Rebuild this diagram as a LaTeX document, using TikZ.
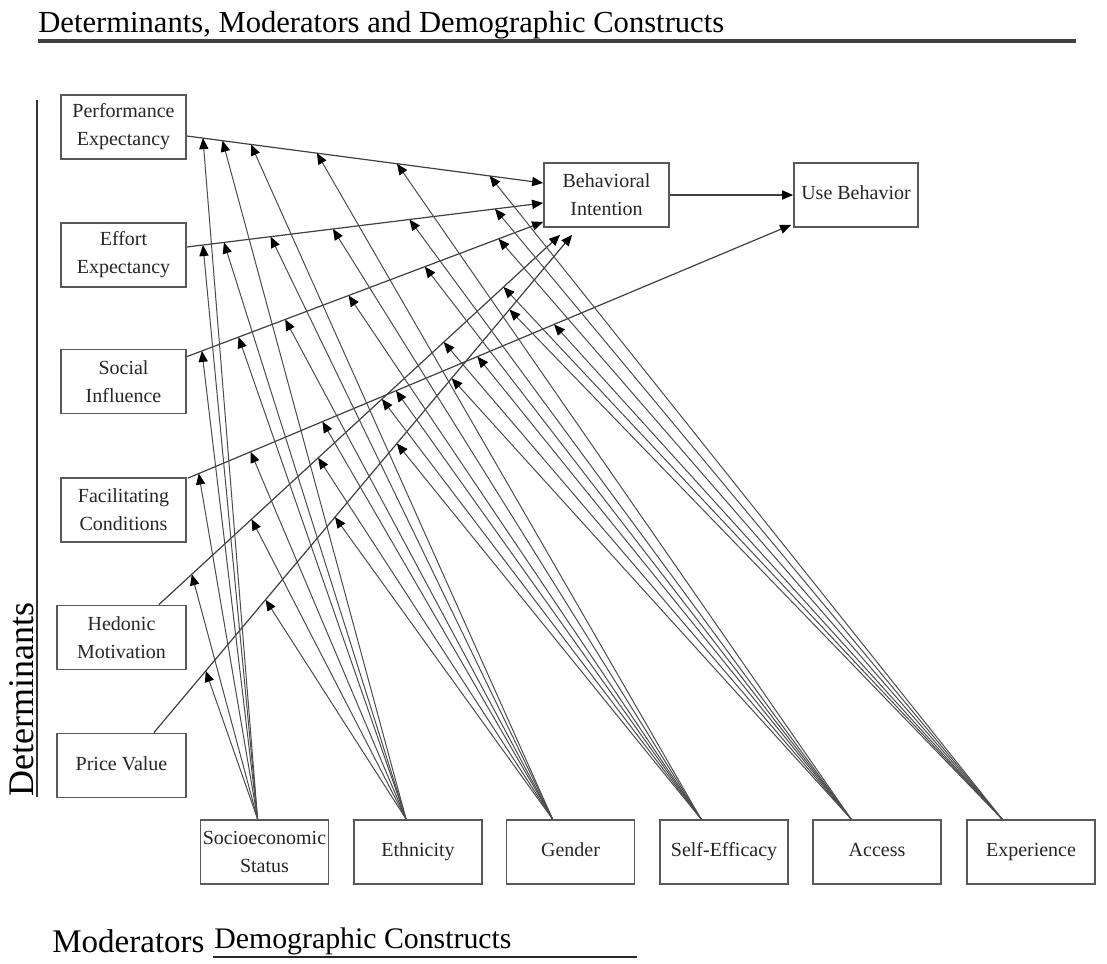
\documentclass[tikz,border=0pt]{standalone}
\usepackage{fontspec}
\setmainfont{Liberation Serif}
\usetikzlibrary{calc,arrows.meta}

\tikzset{
  box/.style={draw=black!65, line width=0.9pt, fill=white, minimum width=62.5pt,
    minimum height=32pt, inner sep=0pt, align=center, text=black!85,
    font=\fontsize{10}{14}\selectfont},
  oneline/.style={text height=7pt, text depth=2.2pt},
  link/.style={draw=black!75, line width=0.6pt, -{Triangle[length=5.5pt,width=4.6pt,black]}},
  modlink/.style={draw=black!70, line width=0.5pt, -{Triangle[length=5.5pt,width=4.6pt,black]}},
}

\begin{document}
\begin{tikzpicture}[x=0.5pt, y=-0.5pt]
\useasboundingbox (0,0) rectangle (1107,963);

% headings
\node[anchor=base west, inner sep=0pt, font=\fontsize{15.3}{18}\selectfont] (title) at (38,33)
  {Determinants, Moderators and Demographic Constructs};
\draw[line width=2pt, black!75] ($(title.base west)+(0,8)$) -- ++(1038,0);

\node[anchor=base west, inner sep=0pt, rotate=90, font=\fontsize{18}{20}\selectfont] (det) at (33,797) {Determinants};
\draw[line width=1pt, black!80] (37,100) -- (37,797);

\node[anchor=base west, inner sep=0pt, font=\fontsize{16.5}{18}\selectfont] (mod) at (52,952) {Moderators};
\node[anchor=base west, inner sep=0pt, font=\fontsize{14.9}{17}\selectfont] (demo) at (214,948) {Demographic Constructs};
\draw[line width=0.8pt, black!85] ($(demo.base west)+(-1,9)$) -- ++(424,0);

% determinants
\node[box] (PE) at (123.5,127) {Performance\\Expectancy};
\node[box] (EE) at (123.5,255) {Effort\\Expectancy};
\node[box] (SI) at (123.5,381.5) {Social\\Influence};
\node[box] (FC) at (123.5,510) {Facilitating\\Conditions};
\node[box, minimum width=64.5pt] (HM) at (121.5,637.5) {Hedonic\\Motivation};
\node[box, oneline, minimum width=64.5pt] (PV) at (121.5,765.5) {Price Value};

% outcomes
\node[box] (BI) at (606.5,195) {Behavioral\\Intention};
\node[box, oneline, minimum width=62pt] (UB) at (856,195) {Use Behavior};

% moderators
\node[box, minimum width=64pt] (SES) at (264.5,852) {Socioeconomic\\Status};
\node[box, oneline, minimum width=64pt] (ETH) at (418,852) {Ethnicity};
\node[box, oneline, minimum width=64pt] (GEN) at (570.5,852) {Gender};
\node[box, oneline, minimum width=64pt] (SEF) at (724,852) {Self-Efficacy};
\node[box, oneline, minimum width=64pt] (ACC) at (877,852) {Access};
\node[box, oneline, minimum width=64pt] (EXP) at (1031,852) {Experience};

% paths from determinants, with the points where moderators act
\draw[link] ($(PE.east)+(0,9)$) -- ($(BI.west)+(0,-12)$)
  coordinate[pos=0.045] (pe1) coordinate[pos=0.10] (pe2) coordinate[pos=0.18] (pe3)
  coordinate[pos=0.365] (pe4) coordinate[pos=0.59] (pe5) coordinate[pos=0.85] (pe6);
\draw[link] ($(EE.east)+(0,-8)$) -- ($(BI.west)+(0,8)$)
  coordinate[pos=0.045] (ee1) coordinate[pos=0.104] (ee2) coordinate[pos=0.235] (ee3)
  coordinate[pos=0.41] (ee4) coordinate[pos=0.625] (ee5) coordinate[pos=0.865] (ee6);
\draw[link] ($(SI.north east)+(0,8)$) -- ($(BI.west)+(0,27)$)
  coordinate[pos=0.042] (si1) coordinate[pos=0.145] (si2) coordinate[pos=0.276] (si3)
  coordinate[pos=0.454] (si4) coordinate[pos=0.668] (si5) coordinate[pos=0.875] (si6);
\draw[link] ($(FC.north east)+(1,1)$) -- ($(UB.south west)+(-2,-3)$)
  coordinate[pos=0.018] (fc1) coordinate[pos=0.104] (fc2) coordinate[pos=0.223] (fc3)
  coordinate[pos=0.345] (fc4) coordinate[pos=0.48] (fc5) coordinate[pos=0.607] (fc6);
\draw[link] ($(HM.north east)+(-28,0)$) -- ($(BI.south west)+(17,7)$)
  coordinate[pos=0.082] (hm1) coordinate[pos=0.231] (hm2) coordinate[pos=0.397] (hm3)
  coordinate[pos=0.556] (hm4) coordinate[pos=0.71] (hm5) coordinate[pos=0.859] (hm6);
\draw[link] ($(PV.north east)+(-33,0)$) -- ($(BI.south west)+(29,7)$)
  coordinate[pos=0.124] (pv1) coordinate[pos=0.267] (pv2) coordinate[pos=0.433] (pv3)
  coordinate[pos=0.581] (pv4) coordinate[pos=0.712] (pv5) coordinate[pos=0.85] (pv6);

\draw[link] (BI.east) -- (UB.west);

% moderator fans
\coordinate (m1) at ($(SES.north west)+(58,0)$);
\coordinate (m2) at ($(ETH.north west)+(53,0)$);
\coordinate (m3) at ($(GEN.north west)+(47,0)$);
\coordinate (m4) at ($(SEF.north west)+(42,0)$);
\coordinate (m5) at ($(ACC.north west)+(39,0)$);
\coordinate (m6) at ($(EXP.north west)+(36,0)$);
\foreach \m in {1,...,6}
  \foreach \d in {pe,ee,si,fc,hm,pv}
    \draw[modlink] (m\m) -- (\d\m);
\end{tikzpicture}
\end{document}
